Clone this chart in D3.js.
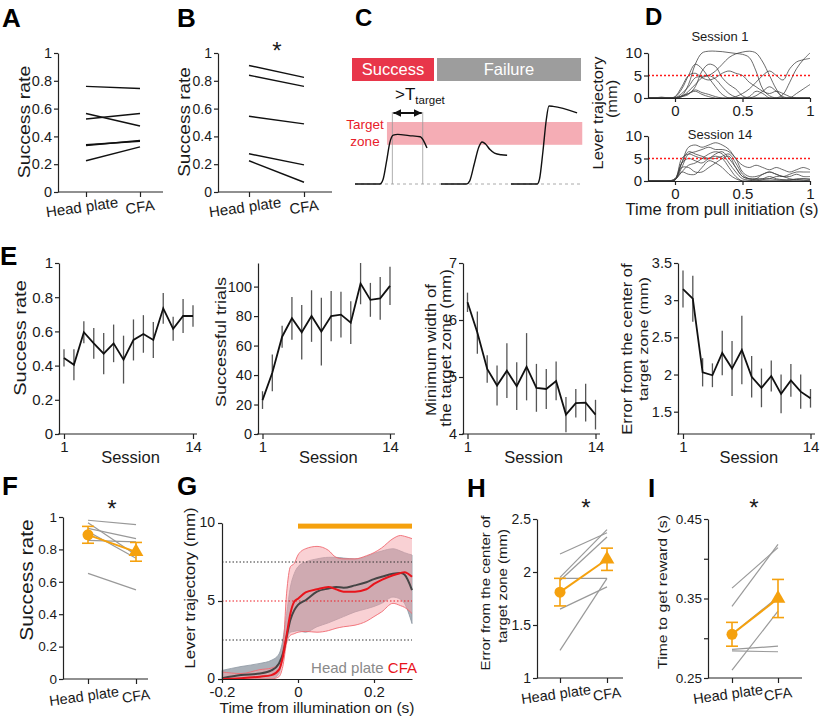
<!DOCTYPE html>
<html><head><meta charset="utf-8">
<script src="https://cdn.jsdelivr.net/npm/d3@7"></script>
<style>body{margin:0;background:#fff}</style>
</head><body>
<script>
// ---------------- DATA ----------------
const pairCategories = ["Head plate", "CFA"];
// A
const aHead = [0.76, 0.565, 0.525, 0.34, 0.335, 0.225];
const aCFA  = [0.745, 0.475, 0.565, 0.365, 0.37, 0.325];
// B
const bHead = [0.91, 0.84, 0.545, 0.275, 0.225];
const bCFA  = [0.825, 0.76, 0.49, 0.195, 0.07];
const rateTicks = [0, 0.2, 0.4, 0.6, 0.8, 1];
// C (schematic, arbitrary units)
const cSuccessT = [0, 11, 12.5, 14, 15.5, 17, 19, 24, 29, 30.5, 32];
const cSuccessV = [0, 0, 0.6, 2.8, 5.2, 6.1, 6.2, 6.05, 5.9, 5.4, 4.5];
const cFail1T = [38.2, 49.5, 51, 53, 55, 56.5, 58, 60, 62, 65, 67.6];
const cFail1V = [0, 0, 0.4, 2.5, 4.6, 5.25, 5.0, 4.3, 3.85, 3.65, 3.6];
const cFail2T = [69.3, 81, 82, 83.5, 85, 86.2, 88, 98.7];
const cFail2V = [0, 0, 0.6, 4, 8, 9.75, 9.7, 8.9];
const cTargetZone = [4.9, 7.75];
// D
const dTime = [-0.2,-0.15,-0.1,-0.05,0,0.05,0.1,0.15,0.2,0.25,0.3,0.35,0.4,0.45,0.5,0.55,0.6,0.65,0.7,0.75,0.8,0.85,0.9,0.95,1];
const dSession1 = [
  [0,0,0,0,0,0.5,3,7.5,10,10.4,10.4,10.3,10.1,9.9,9.7,9,6,2,0.5,0,0,0,0,0,0],
  [0,0,0,0,0,0.3,1.5,3,4.5,5,6,7.5,9,9.8,10.2,10.4,10,8,5,2,0,0,0,0,0],
  [0,0,0,0,0.2,2,5,7.5,6.5,4.5,2.5,0.8,0,0,0,0,0,0,0,0,0,0,0,0,0],
  [0,0,0,0,0.3,2.5,5,5.5,4.5,4,4.5,5.5,6,5.5,5,3.5,2.5,1.5,1,1.5,1,0.3,0,0,0],
  [0,0,0.2,0,0,1,2.5,4.5,4.8,5,4.2,2.5,1,0.2,0,0,0.5,1.5,2.5,1.5,0.3,0,0,0,0],
  [0,0,0,0,0,0.5,1,1.8,1.2,0.8,0.3,0,0,0,0,0.3,1.5,1,0,0,0.8,3.5,6.5,8.5,10],
  [0,0,0,0,0,0.3,1,1.5,0.8,0.3,0,0,0,0.3,1,2,3.5,5,6,5,4,6.5,8,8.5,8.8],
  [0,0,0,0,0.1,0.3,0.8,2.5,6,7.5,7,4.5,3,2,0.5,0,0,0,0,0,0,0,1,2,3]
];
const dSession14 = [
  [0,0,0,0,0.3,4,7.5,8,7.5,8,8.5,8,7,5,3.5,3,3.5,3,2.5,3,2.5,2,2.5,3,2.5],
  [0,0,0,0,0.2,3,6,6.5,7,7.5,7,7,6.5,5,2,1,1,1.5,2,1.5,1,1.5,2,2,2],
  [0,0,0,0,0.2,5,6,5.5,5,5,6,6.5,5,3,1,0.5,0.3,0.5,1,0.5,0.3,0.2,0.5,0.5,0.5],
  [0,0,0,0,0.5,4,5,4.5,4,5,5.5,5,3,1,0,0,0,0,0,0,0,0,0,0,0.3],
  [0,0,0,0,0.3,2,3.5,4,5,6,6.5,6,4,2,0.5,0.2,0,0.3,0.5,0.3,0.2,0.3,0.3,0.2,0.1],
  [0,0,0,0,0.5,3,3,2,2,3,4,5,5.5,3,1,0.5,0.5,1.5,2,1.5,1,1,1.5,1,1],
  [0,0,0,0,0.3,2,1.5,1.5,3,4.5,4,3,1.5,0.5,0,0,0,0,0,0,0,0,0,0,0],
  [0,0,0,0,0.3,4,6.5,6,5.5,5,5,5.5,6,4,1.5,0.5,0.5,0.5,0.5,1,1,0.5,0.3,0.5,0.3]
];
const dYTicks = [0, 5, 10];
const dXTicks = [0, 0.5, 1];
const dTargetCenter = 5;
// E
const sessions = [1,2,3,4,5,6,7,8,9,10,11,12,13,14];
const sessionTicks = [1, 14];
const eRateMean = [0.445,0.405,0.595,0.53,0.47,0.53,0.435,0.55,0.585,0.55,0.735,0.615,0.69,0.69];
const eRateErr  = [0.05,0.09,0.065,0.09,0.12,0.11,0.14,0.12,0.11,0.105,0.09,0.07,0.10,0.063];
const eTrialsMean = [23,41.5,66,78.5,69,80,69.5,80,81,75.5,102,91,92,100.5];
const eTrialsErr  = [6,12.5,7.5,14.5,18.5,17.5,23,17,15.5,14.5,14,11.5,14.5,13];
const eWidthMean = [6.31,5.78,5.14,4.85,5.11,4.84,5.18,4.81,4.79,4.93,4.34,4.54,4.55,4.34];
const eWidthErr  = [0.17,0.37,0.24,0.35,0.48,0.42,0.59,0.42,0.35,0.34,0.31,0.25,0.33,0.26];
const eErrorMean = [3.15,3.02,2.03,1.99,2.29,2.08,2.33,1.97,1.82,1.98,1.74,1.92,1.77,1.68];
const eErrorErr  = [0.25,0.31,0.19,0.16,0.30,0.37,0.46,0.28,0.26,0.21,0.26,0.22,0.23,0.125];
// F
const fHead = [0.98, 0.965, 0.93, 0.91, 0.856, 0.652];
const fCFA  = [0.953, 0.765, 0.867, 0.745, 0.846, 0.55];
const fMean = [0.89, 0.785];
const fErr  = [0.052, 0.058];
// G
const gTime = [-0.2,-0.15,-0.1,-0.07,-0.05,-0.04,-0.03,-0.02,-0.01,0,0.02,0.05,0.08,0.1,0.12,0.15,0.18,0.2,0.22,0.25,0.27,0.28,0.3];
const gHeadMean = [0.05,0.25,0.35,0.55,1.0,1.6,2.7,3.8,4.4,4.75,5.05,5.6,5.8,5.9,5.85,6.0,6.2,6.4,6.55,6.75,6.8,6.7,5.7];
const gHeadHi = [0.55,0.8,1.0,1.2,1.6,2.5,4.2,5.9,6.75,7.2,7.5,7.7,7.8,7.8,7.75,7.7,7.85,8.05,8.2,8.35,8.2,8.1,7.95];
const gHeadLo = [0,0,0,0,0.35,1.4,2.5,3.0,3.05,3.1,3.0,3.35,3.6,3.8,4.0,4.3,4.5,4.65,4.85,5.25,5.1,4.85,3.55];
const gCfaMean = [0,0.05,0.15,0.25,0.6,1.4,2.8,4.2,4.95,5.15,5.55,5.75,5.9,5.75,5.6,5.6,5.75,6.1,6.35,6.65,6.8,6.85,6.55];
const gCfaHi = [0.45,0.35,0.6,0.7,1.0,1.8,5.5,7.2,7.4,7.95,8.35,8.5,8.25,7.8,7.7,7.7,7.9,8.1,8.4,9.0,9.2,9.15,9.0];
const gCfaLo = [0,0,0,0,0.15,0.8,2.3,2.8,2.9,3.0,3.05,3.0,3.1,3.25,3.35,3.45,3.7,4.0,4.3,4.85,4.7,4.6,4.2];
const gRefLines = [2.5, 5, 7.5];
const gStim = [0, 0.3];
const gStimLevel = 9.8;
const gXTicks = [-0.2, 0, 0.2];
const gXTickLabels = ["-0.2", "0", "0.2"];
// H
const hHead = [2.17, 1.95, 1.92, 1.94, 1.65, 1.26];
const hCFA  = [2.37, 2.40, 2.33, 1.94, 1.86, 1.94];
const hMean = [1.81, 2.12];
const hErr  = [0.13, 0.105];
// I
const iHead = [0.363, 0.34, 0.286, 0.284, 0.26, 0.305];
const iCFA  = [0.414, 0.418, 0.29, 0.283, 0.334, 0.352];
const iMean = [0.305, 0.35];
const iErr  = [0.015, 0.024];
const iTicks = [0.25, 0.3, 0.35, 0.4, 0.45];
const iTickLabels = ["0.25", "", "0.35", "", "0.45"];

// ---------------- DRAWING ----------------
const FF = '"Liberation Sans", Arial, Helvetica, sans-serif';
const ORANGE = "#f5a10e";
const svg = d3.select("body").append("svg").attr("width", 820).attr("height", 717).style("font-family", FF);
svg.append("rect").attr("width", 820).attr("height", 717).attr("fill", "#fff");
const fmt = d3.format("~g");

function txt(x, y, s, o = {}) {
  let tr = `translate(${x},${y})`;
  if (o.rot) tr += ` scale(${o.sq || 0.84},1) rotate(${o.rot})`;
  return svg.append("text")
    .attr("transform", tr)
    .attr("text-anchor", o.anchor || "middle")
    .attr("dy", o.dy === undefined ? "0.35em" : o.dy)
    .style("font-size", (o.size || 15) + "px")
    .style("font-weight", o.weight || "normal")
    .attr("fill", o.fill || "#1a1a1a")
    .text(s);
}
function letter(x, y, s, size = 26) { txt(x, y, s, {anchor: "start", dy: 0, size, weight: "bold", fill: "#000"}); }
function styleAxis(g, size) {
  g.attr("font-family", FF);
  g.select(".domain").attr("stroke", "#222").attr("stroke-width", 1.2);
  g.selectAll(".tick line").attr("stroke", "#222").attr("stroke-width", 1.2);
  g.selectAll(".tick text").attr("fill", "#1a1a1a").style("font-size", size + "px");
}
function hline(x1, x2, y, color = "#222", w = 1.2) {
  return svg.append("line").attr("x1", x1).attr("x2", x2).attr("y1", y).attr("y2", y).attr("stroke", color).attr("stroke-width", w);
}

// ---- paired panels ----
function paired(p) {
  const y = d3.scaleLinear().domain(p.domain).range([p.yBot, p.yTop]);
  const x = d3.scalePoint().domain(pairCategories).range([p.xHead, p.xCFA]);
  const gy = svg.append("g").attr("transform", `translate(${p.x0},0)`)
    .call(d3.axisLeft(y).tickValues(p.ticks).tickFormat(p.tickFmt || fmt).tickSize(4).tickSizeOuter(0).tickPadding(2));
  styleAxis(gy, p.tickSize);
  hline(p.x0, p.xEnd, p.yBot);
  const gx = svg.append("g").attr("transform", `translate(0,${p.yBot})`)
    .call(d3.axisBottom(x).tickSize(5).tickSizeOuter(0).tickFormat(""));
  gx.select(".domain").remove();
  styleAxis(gx, p.tickSize);
  pairCategories.forEach((c, i) => txt(x(c) + (i === 0 ? -4 : 0), p.yBot + p.catOff, c, {rot: -8, sq: 1, size: p.catSize}));
  const line = d3.line().x((d, i) => x(pairCategories[i])).y(d => y(d));
  p.head.forEach((h, i) => svg.append("path").attr("d", line([h, p.cfa[i]]))
    .attr("fill", "none").attr("stroke", p.color).attr("stroke-width", p.lw));
  if (p.mean) {
    p.mean.forEach((m, i) => {
      const cx = x(pairCategories[i]);
      svg.append("line").attr("x1", cx).attr("x2", cx).attr("y1", y(m - p.err[i])).attr("y2", y(m + p.err[i]))
        .attr("stroke", ORANGE).attr("stroke-width", 1.6);
      [m - p.err[i], m + p.err[i]].forEach(v => hline(cx - 6, cx + 6, y(v), ORANGE, 1.6));
    });
    svg.append("path").attr("d", line(p.mean)).attr("fill", "none").attr("stroke", ORANGE).attr("stroke-width", 2);
    svg.append("circle").attr("cx", x(pairCategories[0])).attr("cy", y(p.mean[0])).attr("r", 5.5).attr("fill", ORANGE);
    svg.append("path").attr("d", d3.symbol(d3.symbolTriangle, 95)())
      .attr("transform", `translate(${x(pairCategories[1])},${y(p.mean[1])})`).attr("fill", ORANGE);
  }
  if (p.star) txt(p.star[0], p.star[1], "*", {size: 24, dy: "0.56em"});
  p.ylab.forEach(l => txt(l.x, l.y, l.t, {rot: -90, size: l.size}));
}

paired({domain: [0, 1], ticks: rateTicks, yBot: 192, yTop: 53, x0: 58, xEnd: 163, xHead: 86, xCFA: 140,
  head: aHead, cfa: aCFA, color: "#111", lw: 1.4, tickSize: 14.5, catSize: 15, catOff: 15,
  ylab: [{x: 24, y: 122, t: "Success rate", size: 19.5}]});
paired({domain: [0, 1], ticks: rateTicks, yBot: 192, yTop: 53, x0: 218, xEnd: 332, xHead: 249, xCFA: 304,
  head: bHead, cfa: bCFA, color: "#111", lw: 1.4, tickSize: 14, catSize: 15, catOff: 15, star: [277, 46],
  ylab: [{x: 184, y: 122, t: "Success rate", size: 19}]});
letter(2, 27, "A"); letter(177, 27, "B");

// ---- C schematic ----
(function () {
  const x = d3.scaleLinear().domain([0, 100]).range([355, 580]);
  const y = d3.scaleLinear().domain([0, 10]).range([184, 104]);
  svg.append("rect").attr("x", 352).attr("y", 58).attr("width", 82).attr("height", 23).attr("fill", "#e8364a");
  svg.append("rect").attr("x", 437).attr("y", 58).attr("width", 144).attr("height", 23).attr("fill", "#9d9d9d");
  txt(393, 69.5, "Success", {size: 16.5, fill: "#fff"});
  txt(509, 69.5, "Failure", {size: 16.5, fill: "#fff"});
  svg.append("rect").attr("x", x(14.2)).attr("y", y(cTargetZone[1])).attr("width", x(101) - x(14.2))
    .attr("height", y(cTargetZone[0]) - y(cTargetZone[1])).attr("fill", "#f5adb5");
  svg.append("line").attr("x1", x(0)).attr("x2", x(101)).attr("y1", y(0)).attr("y2", y(0))
    .attr("stroke", "#aaa").attr("stroke-width", 1).attr("stroke-dasharray", "3,3");
  const xs = [cSuccessT[5] - 0.4, cSuccessT[9] - 0.4];
  xs.forEach(t => svg.append("line").attr("x1", x(t)).attr("x2", x(t)).attr("y1", 112).attr("y2", y(0))
    .attr("stroke", "#999").attr("stroke-width", 0.8));
  const defs = svg.append("defs");
  defs.append("marker").attr("id", "ah").attr("viewBox", "0 0 10 10").attr("refX", 10).attr("refY", 5)
    .attr("markerWidth", 4).attr("markerHeight", 4).attr("orient", "auto-start-reverse")
    .append("path").attr("d", "M0,0L10,5L0,10z").attr("fill", "#111");
  svg.append("line").attr("x1", x(xs[0]) + 1).attr("x2", x(xs[1]) - 1).attr("y1", 113).attr("y2", 113)
    .attr("stroke", "#111").attr("stroke-width", 2).attr("marker-start", "url(#ah)").attr("marker-end", "url(#ah)");
  const tt = svg.append("text").attr("x", 395).attr("y", 100).attr("fill", "#111");
  tt.append("tspan").style("font-size", "17px").text(">T");
  tt.append("tspan").style("font-size", "11.5px").attr("dy", 4).text("target");
  txt(365, 129, "Target", {size: 13.5, fill: "#e8202a", dy: 0});
  txt(365, 146, "zone", {size: 13.5, fill: "#e8202a", dy: 0});
  const ln = d3.line().x(d => x(d[0])).y(d => y(d[1])).curve(d3.curveMonotoneX);
  [[cSuccessT, cSuccessV], [cFail1T, cFail1V], [cFail2T, cFail2V]].forEach(([t, v]) =>
    svg.append("path").attr("d", ln(t.map((d, i) => [d, v[i]]))).attr("fill", "none").attr("stroke", "#111").attr("stroke-width", 1.4));
  letter(355, 26, "C", 24);
})();

// ---- D ----
function dPlot(traces, yTop, yBot, title, titleY) {
  const x = d3.scaleLinear().domain([-0.2, 1]).range([648, 810]);
  const y = d3.scaleLinear().domain([0, 10]).range([yBot, yTop]);
  const ln = d3.line().x((d, i) => x(dTime[i])).y(d => y(d)).curve(d3.curveCatmullRom);
  traces.forEach(t => svg.append("path").attr("d", ln(t)).attr("fill", "none")
    .attr("stroke", "#3c3c3c").attr("stroke-opacity", 0.85).attr("stroke-width", 0.9));
  svg.append("line").attr("x1", x(-0.2)).attr("x2", x(1)).attr("y1", y(dTargetCenter)).attr("y2", y(dTargetCenter))
    .attr("stroke", "#ff1a1a").attr("stroke-width", 1.3).attr("stroke-dasharray", "2,2");
  const gy = svg.append("g").attr("transform", `translate(648,0)`)
    .call(d3.axisLeft(y).tickValues(dYTicks).tickFormat(fmt).tickSize(4).tickSizeOuter(0).tickPadding(2));
  styleAxis(gy, 15);
  const gx = svg.append("g").attr("transform", `translate(0,${yBot})`)
    .call(d3.axisBottom(x).tickValues(dXTicks).tickFormat(fmt).tickSize(4).tickSizeOuter(0).tickPadding(3));
  styleAxis(gx, 15);
  txt(720, titleY, title, {size: 13, dy: 0});
}
dPlot(dSession1, 53, 98, "Session 1", 41);
dPlot(dSession14, 136, 181, "Session 14", 139);
txt(598, 113, "Lever trajectory", {rot: -90, size: 16.4});
txt(612, 99, "(mm)", {rot: -90, size: 16.4});
txt(722, 215, "Time from pull initiation (s)", {size: 16.5, dy: 0});
letter(645, 25, "D", 24);

// ---- E ----
function sessionPanel(p) {
  const x = d3.scaleLinear().domain([1, 14]).range([p.xs1, p.xs14]);
  const y = d3.scaleLinear().domain(p.domain).range([434, 263]);
  const gy = svg.append("g").attr("transform", `translate(${p.x0},0)`)
    .call(d3.axisLeft(y).tickValues(p.ticks).tickFormat(fmt).tickSize(4).tickSizeOuter(0).tickPadding(2));
  styleAxis(gy, p.tickSize || 15);
  hline(p.x0 - 1, p.xEnd, 434);
  const gx = svg.append("g").attr("transform", `translate(0,434)`)
    .call(d3.axisBottom(x).tickValues(sessionTicks).tickFormat(fmt).tickSize(5).tickSizeOuter(0).tickPadding(2));
  gx.select(".domain").remove();
  styleAxis(gx, 15);
  sessions.forEach((s, i) => svg.append("line").attr("x1", x(s)).attr("x2", x(s))
    .attr("y1", y(Math.max(p.domain[0], p.mean[i] - p.err[i]))).attr("y2", y(p.mean[i] + p.err[i]))
    .attr("stroke", "#555").attr("stroke-width", 1.3));
  svg.append("path").attr("d", d3.line().x((d, i) => x(sessions[i])).y(d => y(d))(p.mean))
    .attr("fill", "none").attr("stroke", "#111").attr("stroke-width", 1.8);
  txt((p.xs1 + p.xs14) / 2 + 2, 463, "Session", {size: 16.5, dy: 0});
  p.ylab.forEach(l => txt(l.x, l.y, l.t, {rot: -90, size: l.size}));
}
sessionPanel({domain: [0, 1], ticks: rateTicks, x0: 59, xEnd: 197, xs1: 64, xs14: 193, mean: eRateMean, err: eRateErr,
  ylab: [{x: 20, y: 338, t: "Success rate", size: 20}]});
sessionPanel({domain: [0, 116], ticks: [0, 20, 40, 60, 80, 100], x0: 258, xEnd: 395, xs1: 262.5, xs14: 390, mean: eTrialsMean, err: eTrialsErr,
  tickSize: 14.5, ylab: [{x: 221, y: 342, t: "Successful trials", size: 18}]});
sessionPanel({domain: [4, 7], ticks: [4, 5, 6, 7], x0: 463, xEnd: 600, xs1: 467.5, xs14: 595.5, mean: eWidthMean, err: eWidthErr,
  tickSize: 14.5, ylab: [{x: 431, y: 350, t: "Minimum width of", size: 17}, {x: 446, y: 348, t: "the target zone (mm)", size: 17}]});
sessionPanel({domain: [1.2, 3.5], ticks: [1.5, 2, 2.5, 3, 3.5], x0: 678, xEnd: 815, xs1: 683, xs14: 810.5, mean: eErrorMean, err: eErrorErr,
  tickSize: 14.5, ylab: [{x: 627, y: 349, t: "Error from the center of", size: 16.6}, {x: 643, y: 339, t: "target zone (mm)", size: 16.3}]});
letter(0, 265, "E");

// ---- F ----
paired({domain: [0, 1], ticks: rateTicks, yBot: 679, yTop: 517, x0: 63, xEnd: 148, xHead: 88, xCFA: 136,
  head: fHead, cfa: fCFA, color: "#999", lw: 1.2, tickSize: 13.5, catSize: 14.5, catOff: 17, star: [112, 504],
  mean: fMean, err: fErr, ylab: [{x: 27, y: 580, t: "Success rate", size: 21}]});
letter(2, 495, "F");

// ---- G ----
(function () {
  const x = d3.scaleLinear().domain([-0.2, 0.3]).range([222, 412]);
  const y = d3.scaleLinear().domain([0, 10]).range([679, 523]);
  const area = (lo, hi) => d3.area().x((d, i) => x(gTime[i])).y0((d, i) => y(lo[i])).y1(d => y(d)).curve(d3.curveMonotoneX)(hi);
  const line = d3.line().x((d, i) => x(gTime[i])).y(d => y(d)).curve(d3.curveMonotoneX);
  svg.append("path").attr("d", area(gHeadLo, gHeadHi)).attr("fill", "#8d97a2").attr("fill-opacity", 0.75)
    .attr("stroke", "#8d97a2").attr("stroke-width", 0.8);
  svg.append("path").attr("d", area(gCfaLo, gCfaHi)).attr("fill", "#f4a4aa").attr("fill-opacity", 0.5);
  [gCfaLo, gCfaHi].forEach(a => svg.append("path").attr("d", line(a)).attr("fill", "none").attr("stroke", "#f06a72").attr("stroke-width", 0.9));
  gRefLines.forEach(v => svg.append("line").attr("x1", x(-0.2)).attr("x2", x(0.3)).attr("y1", y(v)).attr("y2", y(v))
    .attr("stroke", v === 5 ? "#ee1c24" : "#333").attr("stroke-width", 1.1).attr("stroke-dasharray", "1.5,2"));
  svg.append("path").attr("d", line(gHeadMean)).attr("fill", "none").attr("stroke", "#444").attr("stroke-width", 2);
  svg.append("path").attr("d", line(gCfaMean)).attr("fill", "none").attr("stroke", "#e8141c").attr("stroke-width", 2);
  svg.append("rect").attr("x", x(gStim[0])).attr("width", x(gStim[1]) - x(gStim[0]))
    .attr("y", y(gStimLevel) - 2.5).attr("height", 5).attr("fill", ORANGE);
  const gy = svg.append("g").attr("transform", `translate(222,0)`)
    .call(d3.axisLeft(y).tickValues([0, 5, 10]).tickFormat(fmt).tickSize(4).tickSizeOuter(0).tickPadding(3));
  styleAxis(gy, 14);
  gy.selectAll(".tick text").attr("dy", "0.26em");
  const gx = svg.append("g").attr("transform", `translate(0,679)`)
    .call(d3.axisBottom(x).tickValues(gXTicks).tickFormat((d, i) => gXTickLabels[i]).tickSize(4).tickSizeOuter(0).tickPadding(3));
  styleAxis(gx, 15);
  const lg = svg.append("text").attr("x", 417).attr("y", 673).attr("text-anchor", "end").style("font-size", "15px");
  lg.append("tspan").attr("fill", "#8a8a8a").text("Head plate ");
  lg.append("tspan").attr("fill", "#e8141c").text("CFA");
  txt(317, 713, "Time from illumination on (s)", {size: 15.5, dy: 0});
  txt(190, 588, "Lever trajectory (mm)", {rot: -90, size: 17});
  letter(177, 495, "G");
})();

// ---- H ----
paired({domain: [1, 2.5], ticks: [1, 1.5, 2, 2.5], yBot: 678, yTop: 519, x0: 537, xEnd: 623, xHead: 560, xCFA: 607,
  head: hHead, cfa: hCFA, color: "#999", lw: 1.2, tickSize: 14, catSize: 14.5, catOff: 16, star: [586, 503],
  mean: hMean, err: hErr, ylab: [{x: 486, y: 593, t: "Error from the center of", size: 15}, {x: 503, y: 586, t: "target zone (mm)", size: 15}]});
letter(467, 497, "H");

// ---- I ----
paired({domain: [0.25, 0.45], ticks: iTicks, tickFmt: (d, i) => iTickLabels[i], yBot: 678, yTop: 519, x0: 708, xEnd: 802, xHead: 732, xCFA: 778,
  head: iHead, cfa: iCFA, color: "#999", lw: 1.2, tickSize: 13.5, catSize: 14.5, catOff: 16, star: [754, 503],
  mean: iMean, err: iErr, ylab: [{x: 662, y: 592, t: "Time to get reward (s)", size: 15.8}]});
letter(648, 497, "I");
</script>
</body></html>
